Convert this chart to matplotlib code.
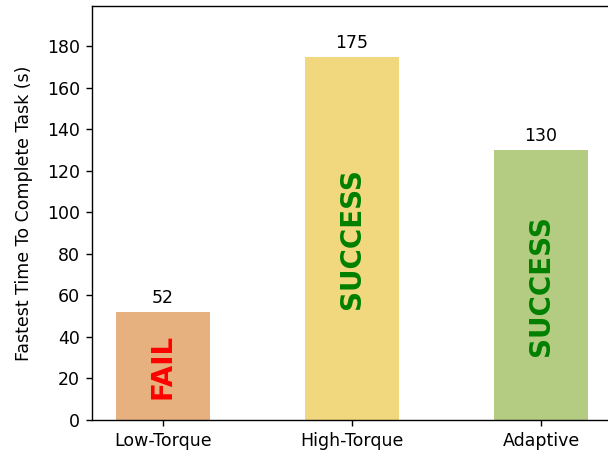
import matplotlib
matplotlib.use("Agg")
from matplotlib import pyplot as plt

methods = ["Low-Torque", "High-Torque", "Adaptive"]
times = [52, 175, 130]
outcomes = ["FAIL", "SUCCESS", "SUCCESS"]
bar_colors = ["#E6B17E", "#F1D87F", "#B4CB82"]
text_colors = ["red", "green", "green"]

fig = plt.figure(figsize=(608 / 125, 452 / 125), dpi=125)
ax = fig.add_axes([92 / 608, 32 / 452, 520 / 608, 414 / 452])

x = range(len(methods))
bars = ax.bar(x, times, width=0.5, color=bar_colors)
ax.bar_label(bars, labels=[str(t) for t in times], padding=3)

for i, (t, o) in enumerate(zip(times, outcomes)):
    ax.text(i, t / 2, o, rotation=90, ha="center", va="center",
            fontsize=16, fontweight="bold", color=text_colors[i])

ax.set_xticks(list(x))
ax.set_xticklabels(methods)
ax.set_ylim(0, max(times) * 1.14)
ax.set_yticks(range(0, 181, 20))
ax.set_ylabel("Fastest Time To Complete Task (s)", labelpad=8)

fig.savefig("out.png", dpi=125)
